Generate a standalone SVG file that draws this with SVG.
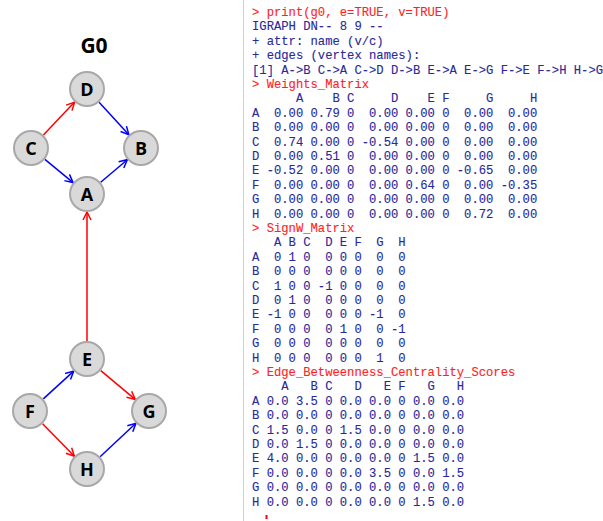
<svg xmlns="http://www.w3.org/2000/svg" width="603" height="521" viewBox="0 0 603 521">
  <style>
    .node circle { fill: #d9d9d9; stroke: #a8a8a8; stroke-width: 2; }
    .node text { font-family: "Open Sans", "Liberation Sans", sans-serif; font-weight: bold; font-size: 18px; fill: #000; text-anchor: middle; dominant-baseline: central; }
    .title { font-family: "Open Sans", "Liberation Sans", sans-serif; font-weight: bold; font-size: 21px; fill: #000; text-anchor: middle; }
    .e { fill: none; stroke-width: 1.5; }
    .red { stroke: #ff0000; }
    .blue { stroke: #0000ff; }
    .con text { font-family: "Liberation Mono", "Courier New", monospace; font-size: 12.2px; white-space: pre; stroke-width: 0.1; }
    .cmd { fill: #ff2222; stroke: #ff2222; }
    .out { fill: #28289a; stroke: #28289a; }
  </style>
  <defs>
    <marker id="arrRed" viewBox="0 0 10 10" refX="9" refY="5" markerWidth="10" markerHeight="10" markerUnits="userSpaceOnUse" orient="auto">
      <path d="M1,1 L9,5 L1,9" fill="none" stroke="#ff0000" stroke-width="1.5"/>
    </marker>
    <marker id="arrBlue" viewBox="0 0 10 10" refX="9" refY="5" markerWidth="10" markerHeight="10" markerUnits="userSpaceOnUse" orient="auto">
      <path d="M1,1 L9,5 L1,9" fill="none" stroke="#0000ff" stroke-width="1.5"/>
    </marker>
  </defs>

  <rect width="603" height="521" fill="#ffffff"/>

  <text class="title" x="94" y="53">G0</text>

  <!-- edges -->
  <g id="edges">
    <line class="e red" x1="43.4" y1="134.9" x2="74.6" y2="102.1" marker-end="url(#arrRed)"/>
    <line class="e blue" x1="99.1" y1="102.3" x2="128.9" y2="134.7" marker-end="url(#arrBlue)"/>
    <line class="e blue" x1="44.9" y1="159.4" x2="73.1" y2="182.6" marker-end="url(#arrBlue)"/>
    <line class="e blue" x1="100.7" y1="182.3" x2="127.3" y2="159.7" marker-end="url(#arrBlue)"/>
    <line class="e red" x1="87" y1="341" x2="87" y2="212" marker-end="url(#arrRed)"/>
    <line class="e red" x1="100.8" y1="370.6" x2="135.2" y2="399.4" marker-end="url(#arrRed)"/>
    <line class="e blue" x1="43.3" y1="398.9" x2="73.7" y2="371.1" marker-end="url(#arrBlue)"/>
    <line class="e red" x1="42.6" y1="423.8" x2="74.4" y2="456.2" marker-end="url(#arrRed)"/>
    <line class="e blue" x1="100.1" y1="456.7" x2="135.9" y2="423.3" marker-end="url(#arrBlue)"/>
  </g>

  <!-- vertices -->
  <g id="node-D" class="node"><circle cx="87" cy="89" r="17"/><text x="87" y="89">D</text></g>
  <g id="node-C" class="node"><circle cx="31" cy="148" r="17"/><text x="31" y="148">C</text></g>
  <g id="node-B" class="node"><circle cx="141" cy="148" r="17"/><text x="141" y="148">B</text></g>
  <g id="node-A" class="node"><circle cx="87" cy="194" r="17"/><text x="87" y="194">A</text></g>
  <g id="node-E" class="node"><circle cx="87" cy="359" r="17"/><text x="87" y="359">E</text></g>
  <g id="node-F" class="node"><circle cx="30" cy="411" r="17"/><text x="30" y="411">F</text></g>
  <g id="node-G" class="node"><circle cx="149" cy="411" r="17"/><text x="149" y="411">G</text></g>
  <g id="node-H" class="node"><circle cx="87" cy="469" r="17"/><text x="87" y="469">H</text></g>

  <!-- console output -->
  <g id="console" class="con">
    <line x1="243.5" y1="0" x2="243.5" y2="521" stroke="#d0d0d0" stroke-width="1"/>
    <text class="cmd" x="252" y="16" xml:space="preserve">&gt; print(g0, e=TRUE, v=TRUE)</text>
    <text class="out" x="252" y="30.4" xml:space="preserve">IGRAPH DN-- 8 9 --</text>
    <text class="out" x="252" y="44.8" xml:space="preserve">+ attr: name (v/c)</text>
    <text class="out" x="252" y="59.2" xml:space="preserve">+ edges (vertex names):</text>
    <text class="out" x="252" y="73.6" xml:space="preserve">[1] A-&gt;B C-&gt;A C-&gt;D D-&gt;B E-&gt;A E-&gt;G F-&gt;E F-&gt;H H-&gt;G</text>
    <text class="cmd" x="252" y="88" xml:space="preserve">&gt; Weights_Matrix</text>
    <text class="out" x="252" y="102.4" xml:space="preserve">      A    B C     D    E F     G     H</text>
    <text class="out" x="252" y="116.8" xml:space="preserve">A  0.00 0.79 0  0.00 0.00 0  0.00  0.00</text>
    <text class="out" x="252" y="131.2" xml:space="preserve">B  0.00 0.00 0  0.00 0.00 0  0.00  0.00</text>
    <text class="out" x="252" y="145.6" xml:space="preserve">C  0.74 0.00 0 -0.54 0.00 0  0.00  0.00</text>
    <text class="out" x="252" y="160" xml:space="preserve">D  0.00 0.51 0  0.00 0.00 0  0.00  0.00</text>
    <text class="out" x="252" y="174.4" xml:space="preserve">E -0.52 0.00 0  0.00 0.00 0 -0.65  0.00</text>
    <text class="out" x="252" y="188.8" xml:space="preserve">F  0.00 0.00 0  0.00 0.64 0  0.00 -0.35</text>
    <text class="out" x="252" y="203.2" xml:space="preserve">G  0.00 0.00 0  0.00 0.00 0  0.00  0.00</text>
    <text class="out" x="252" y="217.6" xml:space="preserve">H  0.00 0.00 0  0.00 0.00 0  0.72  0.00</text>
    <text class="cmd" x="252" y="232" xml:space="preserve">&gt; SignW_Matrix</text>
    <text class="out" x="252" y="246.4" xml:space="preserve">   A B C  D E F  G  H</text>
    <text class="out" x="252" y="260.8" xml:space="preserve">A  0 1 0  0 0 0  0  0</text>
    <text class="out" x="252" y="275.2" xml:space="preserve">B  0 0 0  0 0 0  0  0</text>
    <text class="out" x="252" y="289.6" xml:space="preserve">C  1 0 0 -1 0 0  0  0</text>
    <text class="out" x="252" y="304" xml:space="preserve">D  0 1 0  0 0 0  0  0</text>
    <text class="out" x="252" y="318.4" xml:space="preserve">E -1 0 0  0 0 0 -1  0</text>
    <text class="out" x="252" y="332.8" xml:space="preserve">F  0 0 0  0 1 0  0 -1</text>
    <text class="out" x="252" y="347.2" xml:space="preserve">G  0 0 0  0 0 0  0  0</text>
    <text class="out" x="252" y="361.6" xml:space="preserve">H  0 0 0  0 0 0  1  0</text>
    <text class="cmd" x="252" y="376" xml:space="preserve">&gt; Edge_Betweenness_Centrality_Scores</text>
    <text class="out" x="252" y="390.4" xml:space="preserve">    A   B C   D   E F   G   H</text>
    <text class="out" x="252" y="404.8" xml:space="preserve">A 0.0 3.5 0 0.0 0.0 0 0.0 0.0</text>
    <text class="out" x="252" y="419.2" xml:space="preserve">B 0.0 0.0 0 0.0 0.0 0 0.0 0.0</text>
    <text class="out" x="252" y="433.6" xml:space="preserve">C 1.5 0.0 0 1.5 0.0 0 0.0 0.0</text>
    <text class="out" x="252" y="448" xml:space="preserve">D 0.0 1.5 0 0.0 0.0 0 0.0 0.0</text>
    <text class="out" x="252" y="462.4" xml:space="preserve">E 4.0 0.0 0 0.0 0.0 0 1.5 0.0</text>
    <text class="out" x="252" y="476.8" xml:space="preserve">F 0.0 0.0 0 0.0 3.5 0 0.0 1.5</text>
    <text class="out" x="252" y="491.2" xml:space="preserve">G 0.0 0.0 0 0.0 0.0 0 0.0 0.0</text>
    <text class="out" x="252" y="505.6" xml:space="preserve">H 0.0 0.0 0 0.0 0.0 0 1.5 0.0</text>
    <rect x="265.5" y="515" width="2" height="4" fill="#ff0000"/>
  </g>
</svg>
